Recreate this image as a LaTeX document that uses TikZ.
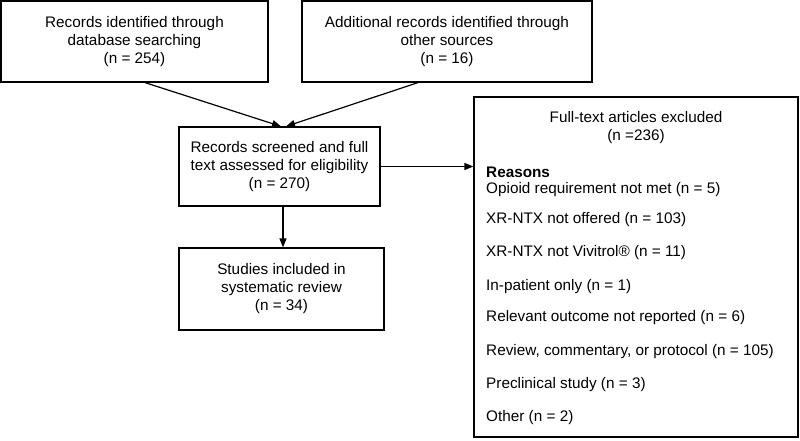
\documentclass[tikz,border=0pt]{standalone}
\usepackage{fontspec}
\setmainfont{Liberation Sans}
\usetikzlibrary{arrows.meta,calc}
\begin{document}
\begin{tikzpicture}[x=1pt,y=-1pt,
  box/.style={draw,line width=1.2pt,align=center,inner sep=0pt,font=\fontsize{15.3}{18}\selectfont},
  txt/.style={inner sep=0pt,font=\fontsize{15.3}{18}\selectfont},
  arr/.style={line width=1.2pt,-{Triangle[length=9pt,width=7pt]}}]
\useasboundingbox[fill=white] (0,0) rectangle (800,440);
\node[box,minimum width=267pt,minimum height=81pt] (b1) at (134.5,41.5) {Records identified through\\database searching\\(n = 254)};
\node[box,minimum width=290pt,minimum height=81pt] (b2) at (447,41.5) {Additional records identified through\\other sources\\(n = 16)};
\node[box,minimum width=201pt,minimum height=79pt] (b3) at (279.5,166.5) {Records screened and full\\text assessed for eligibility\\(n = 270)};
\node[box,minimum width=205pt,minimum height=82pt] (b4) at (281.5,289) {Studies included in\\systematic review\\(n = 34)};
\node[box,minimum width=324pt,minimum height=340pt] (b5) at (636,267) {};
\node[txt,align=center] (t0) at (636,128) {Full-text articles excluded\\(n =236)};
\node[txt,anchor=west] (t1) at (486,172) {\bfseries Reasons};
\node[txt,anchor=west] (t2) at (486,190) {Opioid requirement not met (n = 5)};
\node[txt,anchor=west] (t3) at (486,220) {XR-NTX not offered (n = 103)};
\node[txt,anchor=west] (t4) at (486,253) {XR-NTX not Vivitrol® (n = 11)};
\node[txt,anchor=west] (t5) at (486,287) {In-patient only (n = 1)};
\node[txt,anchor=west] (t6) at (486,318) {Relevant outcome not reported (n = 6)};
\node[txt,anchor=west] (t7) at (486,352) {Review, commentary, or protocol (n = 105)};
\node[txt,anchor=west] (t8) at (486,385) {Preclinical study (n = 3)};
\node[txt,anchor=west] (t9) at (486,418) {Other (n = 2)};
\draw[arr] ($(b1.south)+(10.5,0)$) -- ($(b3.north)+(1.5,0)$);
\draw[arr] ($(b2.south)+(-29,0)$) -- ($(b3.north)+(6.5,0)$);
\draw[arr] (b3.east) -- (b3.east -| b5.west);
\draw[arr] ($(b3.south)+(3.5,0)$) -- ($(b3.south |- b4.north)+(3.5,0)$);
\end{tikzpicture}
\end{document}
